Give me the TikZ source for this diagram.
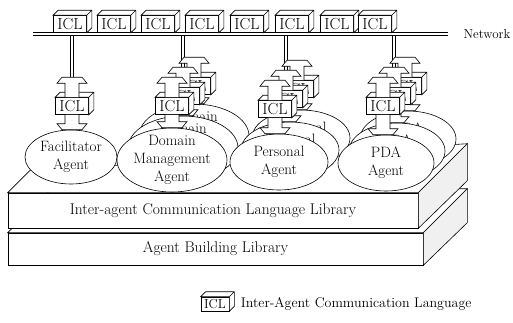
\documentclass[tikz,border=0pt]{standalone}
\usetikzlibrary{shapes.geometric,calc,backgrounds}

\tikzset{
  iclbox/.style = {draw, fill=white, inner sep=0pt, minimum width=33pt,
    minimum height=17pt, font=\fontsize{16}{16}\selectfont},
  agent/.style = {draw, ellipse, fill=white, inner sep=0pt},
  agenttext/.style = {align=center, font=\fontsize{15}{18}\selectfont},
  slab/.style = {draw, fill=white, inner sep=0pt, font=\fontsize{15.5}{16}\selectfont},
  face/.style = {draw, fill=white},
  side/.style = {draw, fill=gray!12},
  netline/.style = {draw, double, double distance=2pt, line width=.7pt},
  dropline/.style = {draw, double, double distance=2.5pt, line width=.6pt}
}

% top and right face of a box node
\newcommand{\iclfaces}[1]{%
  \draw[face] (#1.north west) -- ++(5,-5) -- ([shift={(5,-5)}]#1.north east)
    -- ([shift={(5,-5)}]#1.south east) -- (#1.south east) -- (#1.north east) -- cycle
    (#1.north east) -- ++(5,-5);}

% ICL message box
\newcommand{\icl}[3][]{%
  \node[iclbox,#1] (#2) at #3 {ICL};
  \iclfaces{#2}}

% broad arrow out of the top of a box, tip kept as coordinate #2
\newcommand{\uparr}[2]{%
  \draw[face] let \p1 = (#1.north) in
    (\x1-7pt,\y1) -- (\x1-7pt,\y1+14pt) -- (\x1-15pt,\y1+14pt) -- (\x1-10pt,\y1+20pt)
    -- (\x1+10pt,\y1+20pt) -- (\x1+15pt,\y1+14pt) -- (\x1+7pt,\y1+14pt) -- (\x1+7pt,\y1);
  \coordinate (#2) at ([yshift=20pt]#1.north);}

% broad arrow from a box down onto an agent
\newcommand{\dnarr}[2]{%
  \draw[face] let \p1 = (#1.south), \p2 = (#2.north) in
    (\x1-7pt,\y1) -- (\x1-7pt,\y2+6pt) -- (\x1-15pt,\y2+6pt) -- (\x1-10pt,\y2)
    -- (\x1+10pt,\y2) -- (\x1+15pt,\y2+6pt) -- (\x1+7pt,\y2+6pt) -- (\x1+7pt,\y1);}

% agent = ellipse + its ICL box with arrows
\newcommand{\agentunit}[6]{%
  \node[agent, minimum width=#4, minimum height=#5] (#1) at #3 {};
  \node[agenttext] (#1txt) at (#1.center) {#6};
  \icl{#1icl}{#2}
  \uparr{#1icl}{#1tip}
  \dnarr{#1icl}{#1}}

\begin{document}
\begin{tikzpicture}[x=1pt, y=-1pt, line width=.6pt]
\useasboundingbox (0,0) rectangle (513,322);

% libraries
\node[slab, minimum width=415, minimum height=32] (ablib) at (215.5,249) {Agent Building Library};
\draw[face] (ablib.north west) -- ++(44,-44) -- ([shift={(44,-44)}]ablib.north east) -- (ablib.north east) -- cycle;
\draw[side] (ablib.north east) -- ++(44,-44) -- ++(0,34) -- (ablib.south east) -- cycle;

\node[slab, minimum width=410, minimum height=35] (icllib) at (213,210.5) {Inter-agent Communication Language Library};
\draw[face] (icllib.north west) -- ++(22,-22) -- ([shift={(49,-49)}]icllib.north east) -- (icllib.north east) -- cycle;
\draw[side] (icllib.north east) -- ++(49,-49) -- ++(0,37) -- (icllib.south east) -- cycle;

% agents
\agentunit{fac0}{(72,106)}{(71,157)}{92}{54}{Facilitator\\Agent}
\foreach \k in {2,1,0} {
  \agentunit{dom\k}{({172+11*\k},{106-10*\k})}{({172+11*\k},{160-12*\k})}{110}{64}{Domain\\Management\\Agent}
}
\foreach \k in {2,1,0} {
  \agentunit{per\k}{({275+11*\k},{109-10*\k})}{({279+11*\k},{162-12*\k})}{98}{56}{Personal\\Agent}
}
\foreach \k in {2,1,0} {
  \agentunit{pda\k}{({383+11*\k},{106-10*\k})}{({386+11*\k},{163-12*\k})}{96}{56}{PDA\\Agent}
}

% network
\coordinate (netL) at (33,34);
\coordinate (netR) at (448,34);
\draw[netline] (netL) -- (netR);
\node[anchor=west, font=\fontsize{13}{13}\selectfont] (netname) at ([xshift=12pt]netR) {Network};
\foreach \x [count=\i] in {70,114,158,202,247,292,337,375}
  \icl{net\i}{(\x,24)};

\begin{scope}[on background layer]
  \foreach \n in {fac0,dom1,per1,pda1}
    \draw[dropline] (netL -| \n tip) -- (\n tip);
\end{scope}

% legend
\icl[minimum width=28pt, minimum height=14pt, font=\fontsize{13}{13}\selectfont]{legicl}{(215,304)}
\node[anchor=west, font=\fontsize{14}{14}\selectfont] (legtext) at ([xshift=8pt]legicl.east) {Inter-Agent Communication Language};
\end{tikzpicture}
\end{document}
